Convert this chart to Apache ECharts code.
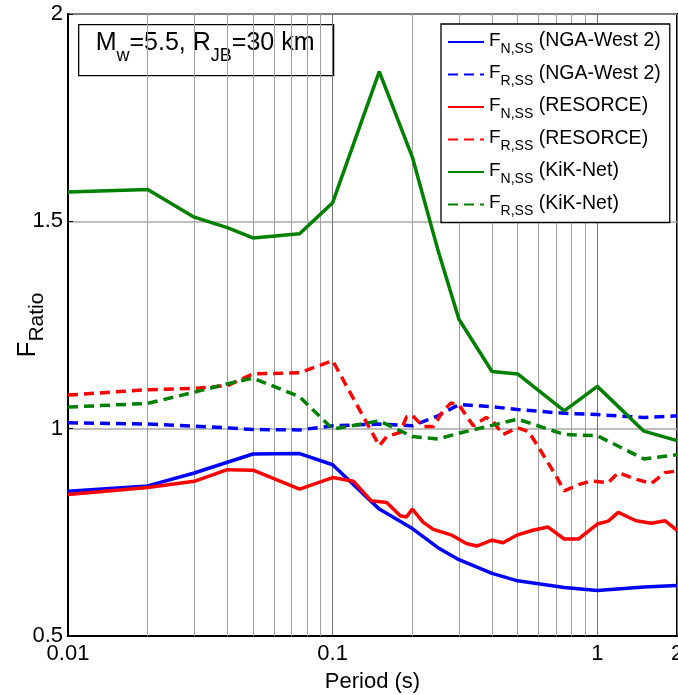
<!DOCTYPE html>
<html>
<head>
<meta charset="utf-8">
<script src="https://cdn.jsdelivr.net/npm/echarts@6/dist/echarts.min.js"></script>
<style>html,body{margin:0;padding:0;background:#fff;}#chart{width:678px;height:695px;}</style>
</head>
<body>
<div id="chart"></div>
<script>
// ---- data ----
const periods = [0.01,0.02,0.03,0.04,0.05,0.075,0.1,0.15,0.2,0.25,0.3,0.4,0.5,0.75,1,1.5,2];
const ngaN = [0.849,0.862,0.893,0.919,0.939,0.940,0.913,0.806,0.759,0.713,0.684,0.651,0.633,0.617,0.610,0.618,0.622];
const ngaR = [1.014,1.011,1.006,1.002,0.998,0.997,1.007,1.011,1.007,1.031,1.058,1.053,1.046,1.037,1.034,1.027,1.031];
const kikN = [1.571,1.577,1.510,1.485,1.460,1.470,1.545,1.861,1.655,1.430,1.264,1.138,1.132,1.043,1.102,0.994,0.971];
const kikR = [1.052,1.061,1.088,1.108,1.122,1.077,0.999,1.019,0.981,0.975,0.989,1.008,1.023,0.986,0.983,0.927,0.937];
const resNPeriods = [0.01,0.02,0.03,0.04,0.05,0.075,0.1,0.12,0.14,0.16,0.18,0.19,0.2,0.22,0.24,0.28,0.32,0.35,0.4,0.44,0.5,0.57,0.65,0.75,0.85,1.0,1.1,1.2,1.4,1.6,1.8,2.0];
const resN = [0.841,0.858,0.873,0.901,0.900,0.854,0.882,0.873,0.826,0.822,0.790,0.787,0.806,0.774,0.757,0.744,0.723,0.717,0.731,0.725,0.744,0.755,0.763,0.734,0.734,0.770,0.777,0.798,0.778,0.772,0.778,0.755];
const resRPeriods = [0.01,0.02,0.03,0.04,0.05,0.075,0.1,0.15,0.16,0.18,0.19,0.2,0.22,0.24,0.26,0.28,0.3,0.34,0.38,0.4,0.44,0.5,0.55,0.6,0.7,0.75,0.85,0.95,1.1,1.2,1.4,1.6,1.8,2.0];
const resR = [1.081,1.094,1.097,1.104,1.132,1.135,1.164,0.959,0.981,0.991,1.028,1.032,1.005,1.005,1.041,1.062,1.057,1.007,1.027,1.020,0.986,1.002,0.993,0.955,0.885,0.850,0.865,0.874,0.870,0.894,0.878,0.868,0.894,0.898];
const minorGrid = [0.02,0.03,0.04,0.05,0.06,0.07,0.08,0.09,0.2,0.3,0.4,0.5,0.6,0.7,0.8,0.9];
const xTickLabels = ['0.01','0.1','1','2'];
const legendSub = ['N,SS','R,SS','N,SS','R,SS','N,SS','R,SS'];
const legendSource = ['NGA-West 2','NGA-West 2','RESORCE','RESORCE','KiK-Net','KiK-Net'];

const FONT = '"Liberation Sans", Arial, Helvetica, sans-serif';
const pair = (xs, ys) => xs.map((x, i) => [x, ys[i]]);
const DASH = [10, 6];

const seriesDefs = [
  {key:'nN', data: pair(periods, ngaN), color:'#0000ff', dash:'solid'},
  {key:'nR', data: pair(periods, ngaR), color:'#0000ff', dash:DASH},
  {key:'rN', data: pair(resNPeriods, resN), color:'#ff0000', dash:'solid'},
  {key:'rR', data: pair(resRPeriods, resR), color:'#ff0000', dash:DASH},
  {key:'kN', data: pair(periods, kikN), color:'#008000', dash:'solid'},
  {key:'kR', data: pair(periods, kikR), color:'#008000', dash:DASH}
];

const chart = echarts.init(document.getElementById('chart'), null, {renderer:'canvas'});

const series = seriesDefs.map((s, i) => ({
  name: s.key,
  type: 'line',
  data: s.data,
  symbol: 'none',
  showSymbol: false,
  z: 3,
  lineStyle: {color: s.color, width: 3.5, type: s.dash},
  itemStyle: {color: s.color},
  animation: false
}));
// minor log gridlines via markLine in data coordinates
series.push({
  name: 'grid', type: 'line', data: [], z: 1, silent: true, animation: false,
  markLine: {
    silent: true, symbol: 'none', z: 1, animation: false,
    label: {show: false},
    lineStyle: {color: '#a0a0a0', width: 1, type: 'solid'},
    data: minorGrid.map(v => ({xAxis: v}))
  }
});

const legendMap = {};
seriesDefs.forEach((s, i) => { legendMap[s.key] = '{f|F}{s|' + legendSub[i] + '}{t| (' + legendSource[i] + ')}'; });

chart.setOption({
  animation: false,
  backgroundColor: '#fff',
  grid: {left: 68, right: 1, top: 14, bottom: 59, show: true, borderColor: '#000', borderWidth: 2, backgroundColor: 'transparent',
         containLabel: false, outerBoundsMode: 'none'},
  xAxis: {
    type: 'log', logBase: 10, min: 0.01, max: 2,
    name: 'Period (s)', nameLocation: 'middle', nameGap: 35, nameMoveOverlap: false,
    nameTextStyle: {fontSize: 22, color: '#000', fontFamily: FONT},
    axisLine: {show: true, lineStyle: {color: '#000', width: 2}},
    axisTick: {show: false},
    axisLabel: {fontSize: 22, color: '#000', fontFamily: FONT, margin: 7, showMinLabel: true, showMaxLabel: true,
      formatter: v => { const s = String(+v.toPrecision(6)); return xTickLabels.indexOf(s) >= 0 ? s : ''; }},
    splitLine: {show: true, lineStyle: {color: '#707070', width: 1}}
  },
  yAxis: {
    type: 'value', min: 0.5, max: 2, interval: 0.5,
    name: '{f|F}{s|Ratio}', nameLocation: 'middle', nameRotate: 90, nameGap: 25, nameMoveOverlap: false,
    nameTextStyle: {color: '#000', fontFamily: FONT, rich: {
      f: {fontSize: 26, fontFamily: FONT, color: '#000', verticalAlign: 'top', lineHeight: 28},
      s: {fontSize: 21, fontFamily: FONT, color: '#000', verticalAlign: 'top', lineHeight: 21, padding: [12, 0, 0, 0]}
    }},
    axisLine: {show: true, lineStyle: {color: '#000', width: 2}},
    axisTick: {show: true, inside: true, length: 5, lineStyle: {color: '#000'}},
    axisLabel: {fontSize: 22, color: '#000', fontFamily: FONT, margin: 5},
    splitLine: {show: true, lineStyle: {color: '#a8a8a8', width: 1.5}}
  },
  legend: {
    show: true, orient: 'vertical', left: 441, top: 24,
    data: seriesDefs.map(s => s.key),
    backgroundColor: '#fff', borderColor: '#000', borderWidth: 1.3,
    padding: [7, 9, 4, 6], itemGap: 7.5, itemWidth: 36, itemHeight: 14, itemTextGap: 5,
    itemStyle: {opacity: 0, borderWidth: 0},
    lineStyle: {opacity: 1},
    formatter: name => legendMap[name],
    textStyle: {color: '#000', fontFamily: FONT, rich: {
      f: {fontSize: 19, fontFamily: FONT, color: '#000', verticalAlign: 'top', lineHeight: 22},
      s: {fontSize: 14, fontFamily: FONT, color: '#000', verticalAlign: 'top', lineHeight: 14, padding: [11, 0, 0, 0]},
      t: {fontSize: 19.5, fontFamily: FONT, color: '#000', verticalAlign: 'top', lineHeight: 22}
    }},
    selectedMode: false
  },
  graphic: [{
    type: 'group', left: 78, top: 24, z: 100,
    children: [
      {type: 'rect', shape: {x: 0, y: 0, width: 255, height: 51}, style: {fill: '#fff', stroke: '#000', lineWidth: 1.3}},
      {type: 'text', x: 17, y: 6, style: {
        text: '{m|M}{w|w}{m|=5.5, R}{w|JB}{m|=30 km}',
        rich: {
          m: {fontSize: 25, fontFamily: FONT, fill: '#000', verticalAlign: 'top', lineHeight: 28},
          w: {fontSize: 18, fontFamily: FONT, fill: '#000', verticalAlign: 'top', lineHeight: 18, padding: [16, 0, 0, 0]}
        }
      }}
    ]
  }],
  series: series
});
</script>
</body>
</html>
